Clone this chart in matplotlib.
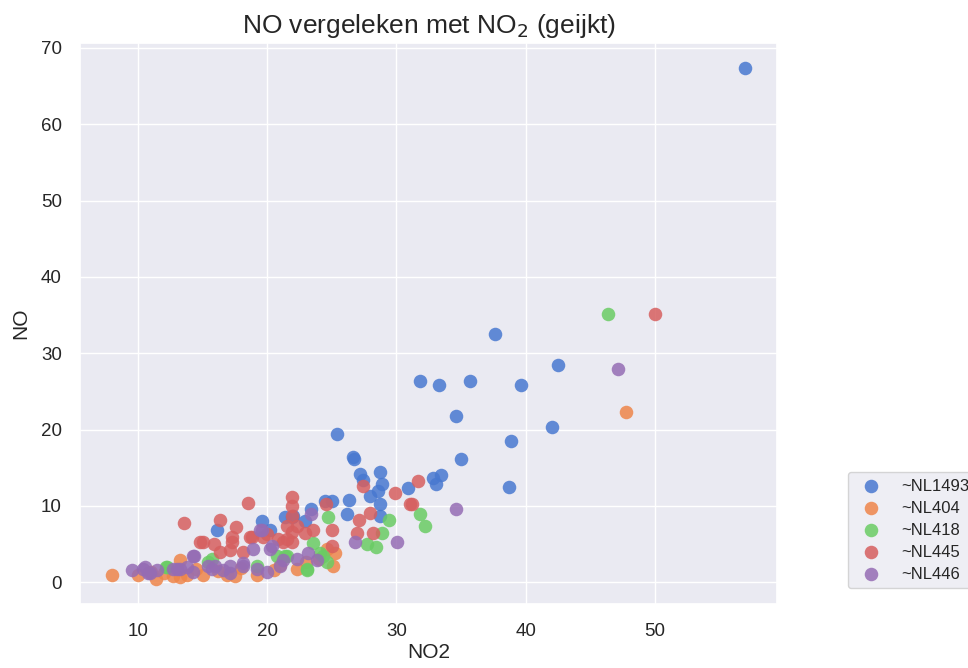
import numpy as np
import matplotlib
matplotlib.use("Agg")
import matplotlib.pyplot as plt
import seaborn as sns

# NO2 (x) en NO (y) per meetstation
stations = ["~NL1493", "~NL404", "~NL418", "~NL445", "~NL446"]

nl1493_x = [56.98, 37.6, 31.86, 33.26, 35.66, 39.61, 42.48, 34.65, 38.84, 42.02, 34.96, 38.68,
            25.43, 26.67, 26.74, 27.21, 28.76, 27.44, 28.91, 28.60, 27.98, 30.93, 32.87, 33.49,
            33.10, 28.76, 26.36, 25.04, 24.50, 23.41, 26.20, 28.76, 22.02, 21.40, 21.94, 22.95,
            16.12, 19.61, 20.23]
nl1493_y = [67.3, 32.5, 26.3, 25.9, 26.3, 25.9, 28.4, 21.8, 18.5, 20.3, 16.2, 12.5,
            19.4, 16.4, 16.2, 14.2, 14.5, 13.4, 12.9, 11.9, 11.3, 12.3, 13.6, 14.0,
            12.9, 10.3, 10.8, 10.6, 10.6, 9.6, 8.9, 8.7, 8.7, 8.6, 8.6, 8.0,
            6.8, 8.0, 6.8]

nl404_x = [47.75, 7.98, 10.0, 11.40, 12.71, 13.26, 13.26, 17.52, 16.90, 15.04, 22.33, 24.65,
           25.27, 25.12, 11.0, 12.0, 13.8, 14.5, 16.2, 18.0, 19.2, 20.5, 21.0, 23.0, 24.0]
nl404_y = [22.3, 0.9, 0.9, 0.5, 0.8, 0.7, 2.9, 0.8, 0.9, 0.9, 1.8, 4.4,
           3.8, 2.2, 1.4, 1.2, 1.0, 1.8, 1.5, 1.9, 1.0, 1.6, 2.3, 2.6, 3.1]

nl418_x = [46.36, 31.86, 32.25, 29.46, 28.91, 27.75, 28.45, 24.73, 23.57, 24.11, 23.10, 20.78,
           21.55, 12.25, 15.43, 19.22, 15.74, 21.40, 24.34, 24.65, 23.10, 12.17]
nl418_y = [35.2, 8.9, 7.4, 8.2, 6.5, 5.0, 4.6, 8.5, 5.1, 3.8, 1.6, 3.4,
           3.5, 2.0, 2.7, 2.1, 3.0, 3.5, 3.5, 2.7, 1.8, 2.0]

nl445_x = [50.0, 31.71, 31.24, 29.92, 27.44, 31.09, 24.57, 27.98, 27.13, 25.04, 26.98, 28.22,
           23.57, 22.95, 21.94, 21.94, 21.94, 21.55, 22.33, 21.94, 21.94, 25.04, 18.53, 13.57,
           16.36, 17.60, 17.29, 17.29, 18.68, 15.04, 15.89, 17.13, 18.14, 16.36, 19.69, 20.85,
           21.55, 18.84, 20.0, 21.24, 14.81]
nl445_y = [35.1, 13.3, 10.2, 11.7, 12.6, 10.3, 10.2, 9.1, 8.1, 6.8, 6.5, 6.5,
           6.9, 6.4, 11.2, 10.0, 8.7, 7.4, 7.4, 6.6, 5.3, 4.7, 10.4, 7.8,
           8.1, 7.2, 6.0, 5.3, 5.9, 5.3, 5.0, 4.2, 4.0, 4.0, 6.0, 5.7,
           5.7, 5.9, 6.3, 5.3, 5.3]

nl446_x = [47.13, 34.65, 30.08, 26.82, 23.41, 19.61, 19.46, 20.23, 18.91, 20.39, 14.34, 22.33,
           15.43, 15.97, 17.13, 18.14, 19.22, 20.0, 21.01, 17.13, 9.53, 10.39, 10.78, 11.47,
           13.02, 13.80, 14.26, 13.26, 12.71, 23.18, 23.88, 21.24, 18.14, 16.59, 15.74, 14.26,
           10.54, 10.93]
nl446_y = [28.0, 9.6, 5.3, 5.3, 8.9, 6.8, 6.8, 4.4, 4.4, 4.8, 3.4, 3.1,
           2.1, 2.2, 2.2, 2.2, 1.8, 1.4, 2.2, 1.2, 1.6, 1.8, 1.2, 1.6,
           1.8, 2.0, 3.4, 1.8, 1.7, 3.8, 2.9, 2.9, 2.5, 1.6, 1.8, 1.4,
           2.0, 1.2]

xs = [nl1493_x, nl404_x, nl418_x, nl445_x, nl446_x]
ys = [nl1493_y, nl404_y, nl418_y, nl445_y, nl446_y]

sns.set_theme(style="darkgrid", palette="muted")
plt.rcParams['font.family'] = ['Liberation Sans', 'DejaVu Sans']
colors = sns.color_palette("muted")

fig = plt.figure(figsize=(9.68, 6.68), dpi=100)
ax = fig.add_axes([0.0826, 0.0958, 0.72, 0.84])

for naam, x, y, c in zip(stations, xs, ys, colors):
    ax.scatter(np.array(x), np.array(y), s=95, color=c, alpha=0.85, linewidths=0, label=naam)

ax.set_title("NO vergeleken met NO$_2$ (geijkt)", fontsize=19, pad=7)
ax.set_xlabel("NO2", fontsize=15, labelpad=2)
ax.set_ylabel("NO", fontsize=15, labelpad=8)
ax.tick_params(axis="x", labelsize=13.5, length=0, pad=14)
ax.tick_params(axis="y", labelsize=13.5, length=0, pad=13)
ax.legend(loc="upper left", bbox_to_anchor=(1.09, 0.25), fontsize=12, labelspacing=0.42,
          frameon=True)

fig.savefig("out.png", dpi=100)
